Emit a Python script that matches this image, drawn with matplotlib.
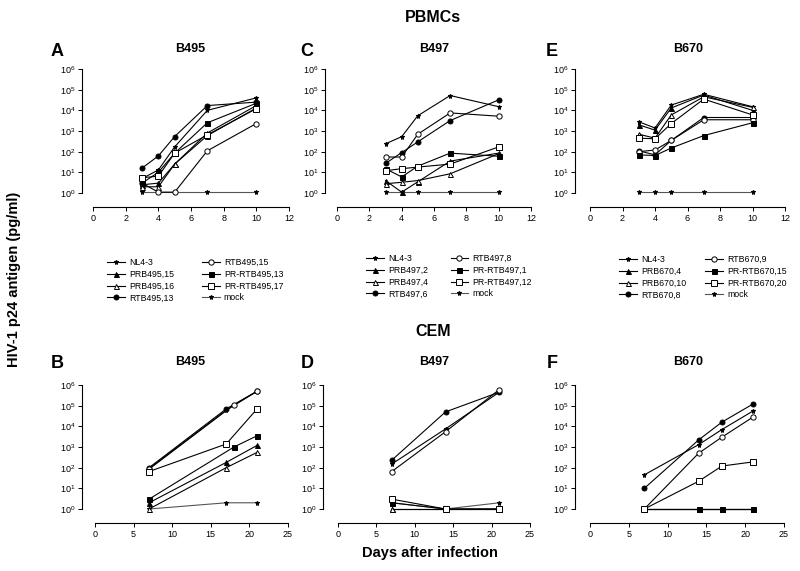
import matplotlib
matplotlib.use('Agg')
import matplotlib.pyplot as plt
from matplotlib.ticker import FixedLocator, FixedFormatter, NullLocator

plt.rcParams['font.family'] = ['Liberation Sans', 'DejaVu Sans']
plt.rcParams['mathtext.fontset'] = 'custom'
plt.rcParams['mathtext.rm'] = 'Liberation Sans'
plt.rcParams['mathtext.it'] = 'Liberation Sans'

# ---- data (pg/ml), order = legend order ----
days_a = [3, 4, 5, 7, 10]
labels_a = ['NL4-3', 'PRB495,15', 'PRB495,16', 'RTB495,13',
            'RTB495,15', 'PR-RTB495,13', 'PR-RTB495,17', 'mock']
vals_a = [[5, 13, 170, 10000, 40000],
          [2.5, 3, 25, 800, 17000],
          [2, 2, 25, 600, 13000],
          [16, 62, 540, 17000, 25000],
          [3, 1.1, 1.1, 110, 2300],
          [3, 10, 85, 2500, 22000],
          [5.5, 6.5, 85, 650, 12000],
          [1.1, 1.1, 1.1, 1.1, 1.1]]

days_c = [3, 4, 5, 7, 10]
labels_c = ['NL4-3', 'PRB497,2', 'PRB497,4', 'RTB497,6',
            'RTB497,8', 'PR-RTB497,1', 'PR-RTB497,12', 'mock']
vals_c = [[240, 530, 5500, 52000, 15000],
          [4, 1.1, 3.5, 35, 85],
          [2.8, 3.3, 4, 8.5, 80],
          [27, 90, 300, 3200, 32000],
          [55, 55, 700, 7500, 5200],
          [15, 6, 20, 85, 60],
          [12, 15, 18, 25, 170],
          [1.1, 1.1, 1.1, 1.1, 1.1]]

days_e = [3, 4, 5, 7, 10]
labels_e = ['NL4-3', 'PRB670,4', 'PRB670,10', 'RTB670,8',
            'RTB670,9', 'PR-RTB670,15', 'PR-RTB670,20', 'mock']
vals_e = [[2800, 1400, 18000, 60000, 15000],
          [2000, 1100, 13000, 55000, 10000],
          [700, 450, 6000, 45000, 14000],
          [110, 70, 350, 4500, 4500],
          [100, 120, 350, 3500, 3500],
          [70, 65, 150, 600, 2500],
          [450, 420, 2300, 35000, 6000],
          [1.1, 1.1, 1.1, 1.1, 1.1]]

# CEM: days differ per series in B
days_b = [[7, 17, 21], [7, 17, 21], [7, 17, 21], [7, 17, 21],
          [7, 18, 21], [7, 18, 21], [7, 17, 21], [7, 17, 21]]
vals_b = [[90, 60000, 500000],
          [2, 180, 1200],
          [1, 100, 550],
          [100, 70000, 500000],
          [85, 110000, 500000],
          [3, 1000, 3500],
          [65, 1400, 70000],
          [1, 2, 2]]

days_d = [7, 14, 21]
vals_d = [[150, 7500, 450000],
          [1, 1, 1],
          [1, 1, 1],
          [230, 50000, 450000],
          [65, 5500, 600000],
          [2, 1, 1],
          [3, 1, 1],
          [2, 1, 2]]

days_f = [7, 14, 17, 21]
vals_f = [[45, 1300, 7000, 55000],
          [1, 1, 1, 1],
          [1, 1, 1, 1],
          [10, 2200, 16000, 120000],
          [1, 500, 3000, 28000],
          [1, 1, 1, 1],
          [1, 22, 120, 190],
          [1, 1, 1, 1]]

# marker per series position: (marker, size, filled)
styles = [('*', 3.6, True), ('^', 3.6, True), ('^', 3.6, False), ('o', 3.6, True),
          ('o', 3.8, False), ('s', 3.6, True), ('s', 4.2, False), ('*', 3.6, True)]

W, H = 800, 571
fig = plt.figure(figsize=(8, 5.71), dpi=100)


def make_ax(x0, x1, ybase, y0, y6, yaxis, xmax, xstep):
    d = (y0 - y6) / 6.0
    lo = -(ybase - y0) / d
    hi = 6.3
    top = y6 - 0.3 * d
    ax = fig.add_axes([x0 / W, 1 - ybase / H, (x1 - x0) / W, (ybase - top) / H])
    ax.set_yscale('log')
    ax.set_ylim(10 ** lo, 10 ** hi)
    ax.set_xlim(0, xmax)
    ax.patch.set_alpha(0)
    for s in ['top', 'right']:
        ax.spines[s].set_visible(False)
    ax.spines['left'].set_position(('outward', (x0 - yaxis) * 0.72))
    ax.spines['left'].set_bounds(1, 1e6)
    ax.spines['bottom'].set_bounds(0, xmax)
    for s in ['left', 'bottom']:
        ax.spines[s].set_linewidth(0.8)
    ax.yaxis.set_major_locator(FixedLocator([10 ** k for k in range(7)]))
    ax.yaxis.set_major_formatter(FixedFormatter(['$10^{%d}$' % k for k in range(7)]))
    ax.yaxis.set_minor_locator(NullLocator())
    ax.set_xticks(range(0, xmax + 1, xstep))
    ax.tick_params(axis='both', length=3, width=0.7, labelsize=6.5, pad=2)
    return ax


def draw(ax, days, vals, per_series_days=False):
    for i, v in enumerate(vals):
        x = days[i] if per_series_days else days
        m, ms, filled = styles[i]
        col = '#555555' if i == 7 else 'black'
        ax.plot(x, v, color=col, lw=0.8, marker=m, ms=ms,
                mfc='black' if filled else 'white', mec='black', mew=0.7,
                clip_on=False, zorder=3 if i != 7 else 2)


def legend(ax, labels, xpx, ypx, colsp):
    handles = []
    for i, lab in enumerate(labels):
        m, ms, filled = styles[i]
        col = '#555555' if i == 7 else 'black'
        h, = ax.plot([], [], color=col, lw=0.8, marker=m, ms=ms,
                     mfc='black' if filled else 'white', mec='black', mew=0.7)
        handles.append(h)
    ax.legend(handles, labels, ncol=2, frameon=False, fontsize=6.3,
              loc='upper left', bbox_to_anchor=(xpx / W, 1 - ypx / H),
              bbox_transform=fig.transFigure, handlelength=2.0,
              handletextpad=0.5, labelspacing=0.32, columnspacing=colsp,
              borderpad=0, borderaxespad=0)


ax_a = make_ax(93, 289, 207, 193, 69, 82, 12, 2)
ax_c = make_ax(337, 531, 207, 193, 69, 325, 12, 2)
ax_e = make_ax(590, 785, 207, 193, 69, 575, 12, 2)
ax_b = make_ax(95, 288, 523, 509, 385, 82, 25, 5)
ax_d = make_ax(338, 530, 523, 509, 385, 323, 25, 5)
ax_f = make_ax(590, 784, 523, 509, 385, 575, 25, 5)

draw(ax_a, days_a, vals_a)
draw(ax_c, days_c, vals_c)
draw(ax_e, days_e, vals_e)
draw(ax_b, days_b, vals_b, per_series_days=True)
draw(ax_d, days_d, vals_d)
draw(ax_f, days_f, vals_f)

legend(ax_a, labels_a, 107, 258, 3.2)
legend(ax_c, labels_c, 366, 254, 2.6)
legend(ax_e, labels_e, 619, 255, 2.2)

# titles and panel letters
fig.text(433 / W, 1 - 17 / H, 'PBMCs', ha='center', va='center', fontsize=11.5, fontweight='bold')
fig.text(433 / W, 1 - 332 / H, 'CEM', ha='center', va='center', fontsize=11.5, fontweight='bold')
for lx, tx, y, letter, name in [(57, 190, 51, 'A', 'B495'), (307, 434, 51, 'C', 'B497'),
                                (552, 688, 51, 'E', 'B670'), (57, 190, 364, 'B', 'B495'),
                                (307, 434, 364, 'D', 'B497'), (552, 688, 364, 'F', 'B670')]:
    fig.text(lx / W, 1 - y / H, letter, ha='center', va='center', fontsize=13, fontweight='bold')
    fig.text(tx / W, 1 - (y - 2) / H, name, ha='center', va='center', fontsize=9, fontweight='bold')

fig.text(430 / W, 1 - 553 / H, 'Days after infection', ha='center', va='center',
         fontsize=10.5, fontweight='bold')
fig.text(14 / W, 1 - 279 / H, 'HIV-1 p24 antigen (pg/ml)', ha='center', va='center',
         rotation=90, fontsize=10.5, fontweight='bold')

fig.savefig('out.png', dpi=100, facecolor='white')
